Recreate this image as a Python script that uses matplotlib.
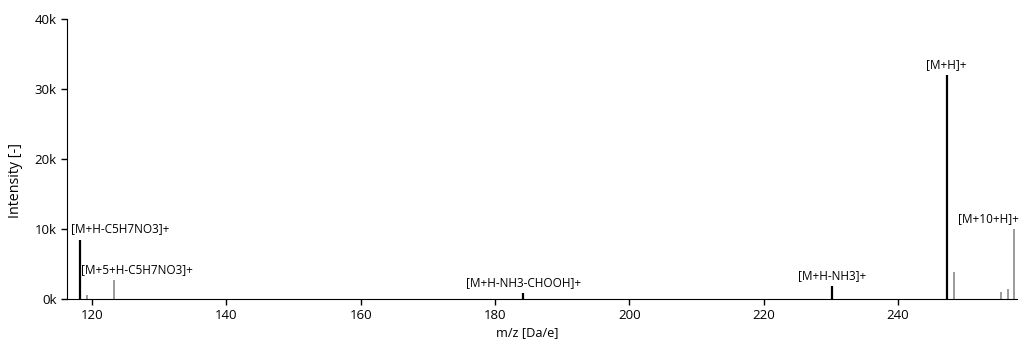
import matplotlib
matplotlib.use("Agg")
import matplotlib.pyplot as plt
from matplotlib.ticker import FuncFormatter

plt.rcParams['font.family'] = ['Open Sans', 'DejaVu Sans']

# main (monoisotopic) peaks - black
main_mz = [118.2, 184.2, 230.2, 247.24]
main_int = [8500, 800, 1850, 32000]
main_labels = ['[M+H-C5H7NO3]+', '[M+H-NH3-CHOOH]+', '[M+H-NH3]+', '[M+H]+']

# isotope peaks - grey
iso_mz = [119.3, 123.3, 248.3, 255.4, 256.3, 257.3]
iso_int = [500, 2700, 3900, 1000, 1400, 10000]
iso_labels = ['', '[M+5+H-C5H7NO3]+', '', '', '', '[M+10+H]+']

fig = plt.figure(figsize=(10.2, 3.4), dpi=100)
ax = fig.add_axes([0.0657, 0.1206, 0.9313, 0.8234])

ax.vlines(main_mz, 0, main_int, color='black', lw=1.6)
ax.vlines(iso_mz, 0, iso_int, color='#808080', lw=1.1)

fs = 8.5
for mz, inten, lab in zip(main_mz, main_int, main_labels):
    if mz < 120:
        # keep label inside the axes
        ax.annotate(lab, (mz, inten), xytext=(-9, 4), textcoords='offset pixels',
                    ha='left', va='bottom', fontsize=fs)
    else:
        ax.annotate(lab, (mz, inten), xytext=(0, 4), textcoords='offset pixels',
                    ha='center', va='bottom', fontsize=fs)

for mz, inten, lab in zip(iso_mz, iso_int, iso_labels):
    if not lab:
        continue
    if mz > 250:
        # pushed left so it stays on the figure
        ax.annotate(lab, (mz, inten), xytext=(5, 4), textcoords='offset pixels',
                    ha='right', va='bottom', fontsize=fs, annotation_clip=False)
    else:
        ax.annotate(lab, (mz, inten), xytext=(-33, 4), textcoords='offset pixels',
                    ha='left', va='bottom', fontsize=fs)

ax.set_xlim(116.28, 257.7)
ax.set_ylim(0, 40000)
ax.set_xticks([120, 140, 160, 180, 200, 220, 240])
ax.set_yticks([0, 10000, 20000, 30000, 40000])
ax.yaxis.set_major_formatter(FuncFormatter(lambda v, p: '%dk' % (v / 1000)))
ax.tick_params(labelsize=9.5, length=4, width=1)

for s in ['top', 'right']:
    ax.spines[s].set_visible(False)

ax.set_xlabel('m/z [Da/e]', fontsize=9.2)
ax.set_ylabel('Intensity [-]', fontsize=10.3)
ax.xaxis.set_label_coords(0.484, -0.095)
ax.yaxis.set_label_coords(-0.046, 0.425)

fig.savefig('out.png', dpi=100)
